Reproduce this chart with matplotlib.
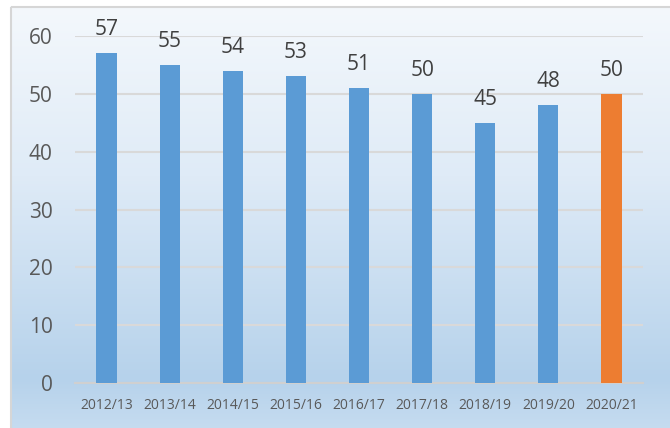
import matplotlib
matplotlib.use("Agg")
import matplotlib.pyplot as plt
import numpy as np
from matplotlib.colors import LinearSegmentedColormap
from matplotlib.patches import Rectangle

seasons = ["2012/13", "2013/14", "2014/15", "2015/16", "2016/17",
           "2017/18", "2018/19", "2019/20", "2020/21"]
values = [57, 55, 54, 53, 51, 50, 45, 48, 50]
highlight = "2020/21"

BLUE, ORANGE = "#5b9bd5", "#ed7d31"
plt.rcParams["font.family"] = ["Open Sans", "DejaVu Sans"]

fig = plt.figure(figsize=(6.7, 4.28), dpi=100)

# background: framed gradient panel
bg = fig.add_axes([0, 0, 1, 1], zorder=-10)
bg.set_xlim(0, 670); bg.set_ylim(428, 0); bg.axis("off")
cmap = LinearSegmentedColormap.from_list(
    "bg", [(0, "#f4f8fc"), (0.4, "#dfebf7"), (0.88, "#b6d2eb"), (1, "#c6dcf0")])
grad = np.linspace(0, 1, 256).reshape(-1, 1)
bg.imshow(grad, cmap=cmap, extent=(10, 672, 430, 6), aspect="auto")
bg.add_patch(Rectangle((10.5, 6.5), 670, 430, fill=False, ec="#d6d6d6", lw=1.5))

ax = fig.add_axes([75 / 670, 45 / 428, 568 / 670, 347 / 428])
ax.patch.set_alpha(0)
x = np.arange(len(seasons))
colors = [ORANGE if s == highlight else BLUE for s in seasons]
bars = ax.bar(x, values, width=0.32, color=colors, zorder=3)
for b, v in zip(bars, values):
    ax.annotate(str(v), (b.get_x() + b.get_width() / 2, v), xytext=(0, 13),
                textcoords="offset points", ha="center", va="baseline",
                fontsize=15, color="#404040", annotation_clip=False)

ax.set_xlim(-0.5, len(seasons) - 0.5)
ax.set_ylim(0, 60)
ax.set_yticks(range(0, 61, 10))
ax.set_xticks(x)
ax.set_xticklabels(seasons)
ax.tick_params(axis="y", length=0, pad=16, labelsize=15, labelcolor="#595959")
ax.tick_params(axis="x", length=0, pad=11, labelsize=10, labelcolor="#595959")
ax.grid(axis="y", color="#d9d9d9", lw=1.5, zorder=0)
for s in ["top", "right", "left"]:
    ax.spines[s].set_visible(False)
ax.spines["bottom"].set_color("#d0d0d0")
ax.spines["bottom"].set_linewidth(1.5)

fig.savefig("out.png", dpi=100)
